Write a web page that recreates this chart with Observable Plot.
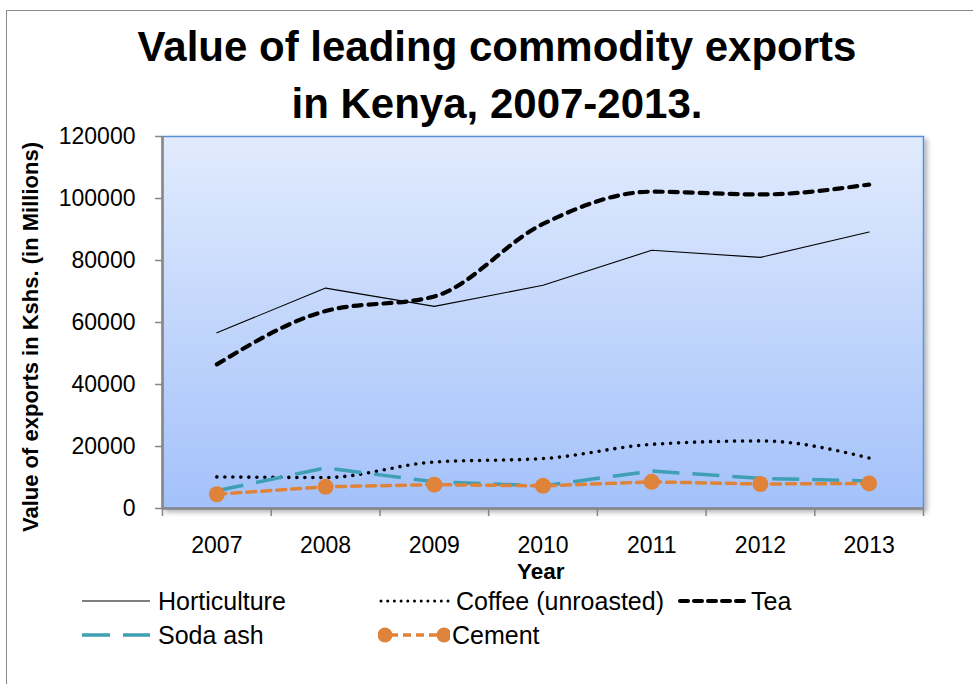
<!DOCTYPE html>
<html><head><meta charset="utf-8">
<script src="https://cdn.jsdelivr.net/npm/d3@7"></script>
<script src="https://cdn.jsdelivr.net/npm/@observablehq/plot@0.6"></script>
<style>
html,body{margin:0;padding:0;width:973px;height:684px;overflow:hidden;background:#fff;font-family:"Liberation Sans",Arial,sans-serif;color:#000;}
#wrap{position:relative;width:973px;height:684px;overflow:hidden;}
#outer{position:absolute;left:6px;top:10px;width:1000px;height:720px;border:1.5px solid #8a8a8a;box-sizing:border-box;}
#chart{position:absolute;left:0;top:0;}
.title{position:absolute;left:0;width:994px;text-align:center;font-family:"Liberation Sans",Arial,sans-serif;font-weight:bold;font-size:42px;line-height:50px;white-space:nowrap;}
#ytitle{position:absolute;width:500px;height:24px;line-height:24px;font-size:22px;font-weight:bold;text-align:center;white-space:nowrap;transform:rotate(-90deg);}
#xtitle{position:absolute;font-size:22.5px;font-weight:bold;white-space:nowrap;}
.leg{position:absolute;height:30px;display:flex;align-items:center;font-size:25px;white-space:nowrap;}
.leg svg{display:block;}
</style></head>
<body><div id="wrap">
<div id="outer"></div>
<div id="chart"></div>
<div class="title" style="top:22px">Value of leading commodity exports</div>
<div class="title" style="top:79px">in Kenya, 2007-2013.</div>
<div id="ytitle" style="left:-219px;top:325px">Value of exports in Kshs. (in Millions)</div>
<div id="xtitle" style="left:517px;top:559px">Year</div>
<div id="legend"></div>
</div>
<script>
const years = [2007, 2008, 2009, 2010, 2011, 2012, 2013];
const horticulture = [56700, 71100, 65200, 72000, 83300, 81000, 89200];
const coffee = [10200, 10000, 15000, 16100, 20700, 21800, 16300];
const tea = [46500, 63700, 68400, 91800, 102200, 101300, 104500];
const sodaAsh = [5700, 13100, 8600, 7300, 12100, 9700, 8900];
const cement = [4600, 7000, 7700, 7300, 8600, 7900, 8100];
const yTicks = [0, 20000, 40000, 60000, 80000, 100000, 120000];
const seriesNames = ["Horticulture", "Coffee (unroasted)", "Tea", "Soda ash", "Cement"];

const rows = (vals) => years.map((yr, i) => ({year: yr, value: vals[i]}));
const bounds = [...years.map(y => y - 0.5), years[years.length - 1] + 0.5];

const gray = "#868686";
const teal = "#3f9fb5";
const orange = "#e0833a";

const plot = Plot.plot({
  width: 973,
  height: 684,
  marginTop: 136,
  marginLeft: 162,
  marginRight: 50,
  marginBottom: 176,
  style: {fontFamily: "'Liberation Sans', Arial, sans-serif", fontSize: "23px", color: "#000", background: "transparent", overflow: "visible"},
  x: {type: "linear", domain: [bounds[0], bounds[bounds.length - 1]]},
  y: {domain: [0, 120000]},
  marks: [
    Plot.frame({fill: "#c4d8fb", stroke: "#5d8fd6", strokeWidth: 1.5}),
    Plot.axisY({ticks: yTicks, tickFormat: d => String(d), tickSize: 7, tickPadding: 20, stroke: gray, strokeWidth: 1.5, fill: "#000", label: null}),
    Plot.axisX({ticks: bounds, tickSize: 8, tickFormat: () => "", stroke: gray, strokeWidth: 1.5, label: null}),
    Plot.axisX({ticks: years, tickSize: 0, tickPadding: 28, tickFormat: d => String(d), fill: "#000", label: null}),
    Plot.ruleX([bounds[0]], {stroke: gray, strokeWidth: 2.5}),
    Plot.ruleY([0], {stroke: gray, strokeWidth: 2.5}),
    Plot.line(rows(horticulture), {x: "year", y: "value", stroke: "#000", strokeWidth: 1.1}),
    Plot.line(rows(coffee), {x: "year", y: "value", stroke: "#000", strokeWidth: 3.6, strokeDasharray: "0 8", strokeLinecap: "round", curve: "monotone-x"}),
    Plot.line(rows(tea), {x: "year", y: "value", stroke: "#000", strokeWidth: 4.2, strokeDasharray: "8 7", strokeLinecap: "round", curve: "monotone-x"}),
    Plot.line(rows(sodaAsh), {x: "year", y: "value", stroke: teal, strokeWidth: 3.5, strokeDasharray: "27 13", strokeLinecap: "butt"}),
    Plot.line(rows(cement), {x: "year", y: "value", stroke: orange, strokeWidth: 3.5, strokeDasharray: "9 6", strokeLinecap: "round"}),
    Plot.dot(rows(cement), {x: "year", y: "value", r: 8, fill: orange, stroke: "none"})
  ]
});
document.getElementById("chart").appendChild(plot);

// gradient background for the plot area
const svg = d3.select(plot);
const defs = svg.insert("defs", ":first-child");
const grad = defs.append("linearGradient").attr("id", "bgGrad").attr("x1", 0).attr("y1", 0).attr("x2", 0).attr("y2", 1);
grad.append("stop").attr("offset", "0%").attr("stop-color", "#e1ebfd");
grad.append("stop").attr("offset", "100%").attr("stop-color", "#a3c1fa");
const filt = defs.append("filter").attr("id", "shadow").attr("x", "-5%").attr("y", "-5%").attr("width", "115%").attr("height", "115%");
filt.append("feDropShadow").attr("dx", 3).attr("dy", 3).attr("stdDeviation", 2.5).attr("flood-color", "#000").attr("flood-opacity", 0.3);
svg.selectAll("g[aria-label=frame] rect, rect[aria-label=frame]").attr("fill", "url(#bgGrad)").attr("filter", "url(#shadow)");

// legend
const legend = document.getElementById("legend");
function swatch(kind) {
  const s = d3.create("svg").attr("width", 72).attr("height", 30);
  const y = 15;
  if (kind === 0) s.append("line").attr("x1", 2).attr("x2", 70).attr("y1", y).attr("y2", y).attr("stroke", "#000").attr("stroke-width", 1.1);
  if (kind === 1) s.append("line").attr("x1", 3).attr("x2", 70).attr("y1", y).attr("y2", y).attr("stroke", "#000").attr("stroke-width", 3).attr("stroke-dasharray", "0 6.7").attr("stroke-linecap", "round");
  if (kind === 2) s.append("line").attr("x1", 3).attr("x2", 70).attr("y1", y).attr("y2", y).attr("stroke", "#000").attr("stroke-width", 4).attr("stroke-dasharray", "8 6").attr("stroke-linecap", "round");
  if (kind === 3) s.append("line").attr("x1", 2).attr("x2", 70).attr("y1", y).attr("y2", y).attr("stroke", teal).attr("stroke-width", 3.5).attr("stroke-dasharray", "28 13");
  if (kind === 4) {
    s.append("line").attr("x1", 8).attr("x2", 64).attr("y1", y).attr("y2", y).attr("stroke", orange).attr("stroke-width", 3.5).attr("stroke-dasharray", "8 5").attr("stroke-dashoffset", -4);
    s.append("circle").attr("cx", 7).attr("cy", y).attr("r", 7.5).attr("fill", orange);
    s.append("circle").attr("cx", 66).attr("cy", y).attr("r", 7.5).attr("fill", orange);
  }
  return s.node();
}
const legPos = [[80, 586], [378, 586], [677, 586], [80, 620], [378, 620]];
seriesNames.forEach((name, i) => {
  const d = document.createElement("div");
  d.className = "leg";
  d.style.left = legPos[i][0] + "px";
  d.style.top = legPos[i][1] + "px";
  d.appendChild(swatch(i));
  const t = document.createElement("span");
  t.textContent = name;
  t.style.marginLeft = i === 2 ? "2px" : (i === 4 ? "2px" : "6px");
  d.appendChild(t);
  legend.appendChild(d);
});
</script>
</body></html>
